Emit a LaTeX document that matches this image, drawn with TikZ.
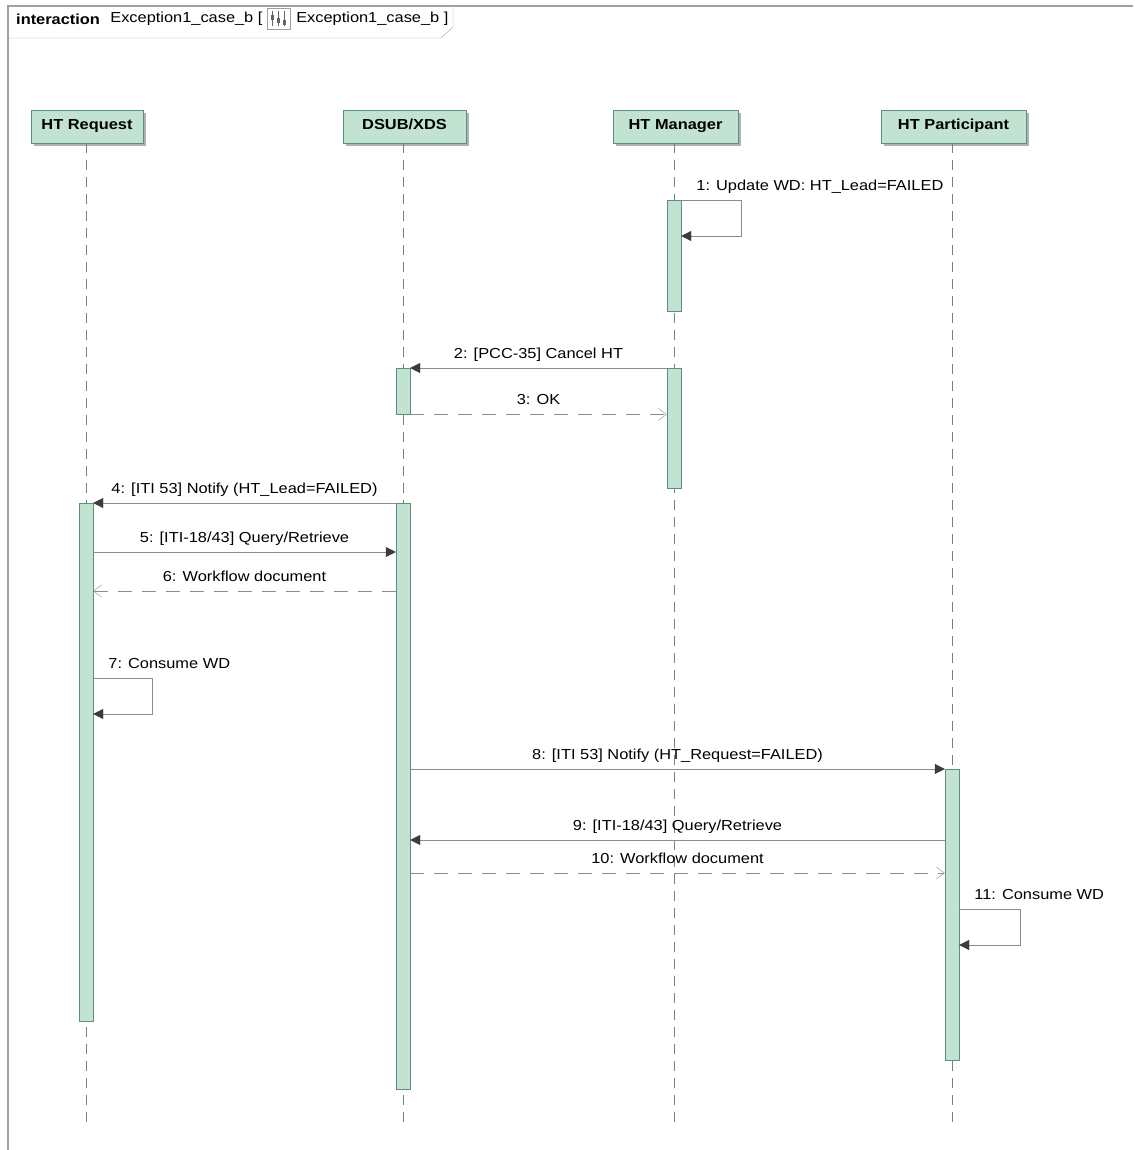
\documentclass[tikz,border=0pt]{standalone}
\usepackage{fontspec}
\setmainfont{Liberation Sans}[FakeStretch=1.13]
\usetikzlibrary{arrows.meta,positioning,shadows}
\definecolor{actfill}{HTML}{C2E3D2}
\definecolor{actline}{HTML}{5E8F7C}
\definecolor{msgline}{HTML}{8C8C8C}
\definecolor{tipcol}{HTML}{3C3C3C}
\definecolor{framecol}{HTML}{A0A0A0}
\tikzstyle{head} = [rectangle,draw=actline,fill=actfill,minimum height=33,inner sep=0,text height=10.5pt,text depth=5pt,font=\bfseries\fontsize{14.5}{17}\selectfont,drop shadow={shadow xshift=3pt,shadow yshift=-3pt,fill=black!30,opacity=1}]
\tikzstyle{act} = [rectangle,draw=actline,fill=actfill,minimum width=14,inner sep=0,anchor=north]
\tikzstyle{life} = [draw=actline,dash pattern=on 10pt off 7pt]
\tikzstyle{call} = [draw=msgline,-{Triangle[length=10pt,width=10pt,color=tipcol]}]
\tikzstyle{reply} = [draw=msgline,dash pattern=on 14pt off 10pt,-{Straight Barb[length=8pt,width=12pt]}]
\tikzstyle{lbl} = [font=\fontsize{14.5}{17}\selectfont,inner sep=2pt,text height=11pt,text depth=3.5pt]
\tikzstyle{ttl} = [font=\fontsize{14.5}{17}\selectfont,inner sep=0]

\begin{document}
\begin{tikzpicture}[x=1pt,y=-1pt]
	\useasboundingbox (0,0) rectangle (1134,1150);
	% frame and tab
	\draw[framecol,line width=1.2] (8,1150) -- (8,6) -- (1133,6);
	\draw[framecol] (8,38) -- (441,38) -- (453,27) -- (453,6);
	\node[ttl,anchor=west] (kind) at (16,19) {\textbf{interaction}};
	\node[ttl,right=10pt of kind] (name1) {Exception1\_case\_b [};
	\node[draw=framecol,minimum width=23,minimum height=21,inner sep=0,right=4pt of name1] (icon) {};
	\foreach \dx in {-6,0,6}
		\draw[black!60] ([xshift=\dx]icon.north) ++(0,3) -- ++(0,15);
	\foreach \dx/\dy in {-6/7,0/10,6/12}
		\fill[black!60] ([xshift=\dx-1.5]icon.north) ++(0,\dy) rectangle ++(3,5);
	\node[ttl,right=6pt of icon] (name2) {Exception1\_case\_b ]};

	% lifelines
	\node[head,minimum width=112] (req) at (87,126.5) {HT Request};
	\node[head,minimum width=123] (dsub) at (404.5,126.5) {DSUB/XDS};
	\node[head,minimum width=125] (mgr) at (675.5,126.5) {HT Manager};
	\node[head,minimum width=145] (part) at (953.5,126.5) {HT Participant};
	\foreach \l/\x in {req/86,dsub/403,mgr/674,part/952}{
		\coordinate (\l end) at (\x,1127);
		\draw[life] (\l.south -| \l end) -- (\l end);
	}

	% activations
	\node[act,minimum height=111] (mgr1) at (674,200) {};
	\node[act,minimum height=120] (mgr2) at (674,368) {};
	\node[act,minimum height=46] (dsub1) at (403,368) {};
	\node[act,minimum height=586] (dsub2) at (403,503) {};
	\node[act,minimum height=518] (req1) at (86,503) {};
	\node[act,minimum height=291] (part1) at (952,769) {};

	% message levels
	\coordinate (t5) at (0,552);
	\coordinate (t6) at (0,591);
	\coordinate (t7) at (0,678);
	\coordinate (t9) at (0,840);
	\coordinate (t10) at (0,873);
	\coordinate (t11) at (0,909);

	\draw[call] (mgr1.north east) node[lbl,anchor=south west,xshift=13,yshift=4]{1: Update WD: HT\_Lead=FAILED}
		-- ++(60,0) -- ++(0,36) -- ++(-60,0);
	\draw[call] (mgr2.north west) -- node[lbl,above=4pt]{2: [PCC-35] Cancel HT} (dsub1.north east);
	\draw[reply] (dsub1.south east) -- node[lbl,above=4pt]{3: OK} (dsub1.south east -| mgr2.west);
	\draw[call] (dsub2.north west) -- node[lbl,above=4pt]{4: [ITI 53] Notify (HT\_Lead=FAILED)} (req1.north east);
	\draw[call] (req1.east |- t5) -- node[lbl,above=4pt]{5: [ITI-18/43] Query/Retrieve} (dsub2.west |- t5);
	\draw[reply] (dsub2.west |- t6) -- node[lbl,above=4pt]{6: Workflow document} (req1.east |- t6);
	\draw[call] (req1.east |- t7) node[lbl,anchor=south west,xshift=13,yshift=4]{7: Consume WD}
		-- ++(59,0) -- ++(0,36) -- ++(-59,0);
	\draw[call] (dsub2.east |- part1.north) -- node[lbl,above=4pt]{8: [ITI 53] Notify (HT\_Request=FAILED)} (part1.north west);
	\draw[call] (part1.west |- t9) -- node[lbl,above=4pt]{9: [ITI-18/43] Query/Retrieve} (dsub2.east |- t9);
	\draw[reply] (dsub2.east |- t10) -- node[lbl,above=4pt]{10: Workflow document} (part1.west |- t10);
	\draw[call] (part1.east |- t11) node[lbl,anchor=south west,xshift=13,yshift=4]{11: Consume WD}
		-- ++(61,0) -- ++(0,36) -- ++(-61,0);
\end{tikzpicture}
\end{document}
